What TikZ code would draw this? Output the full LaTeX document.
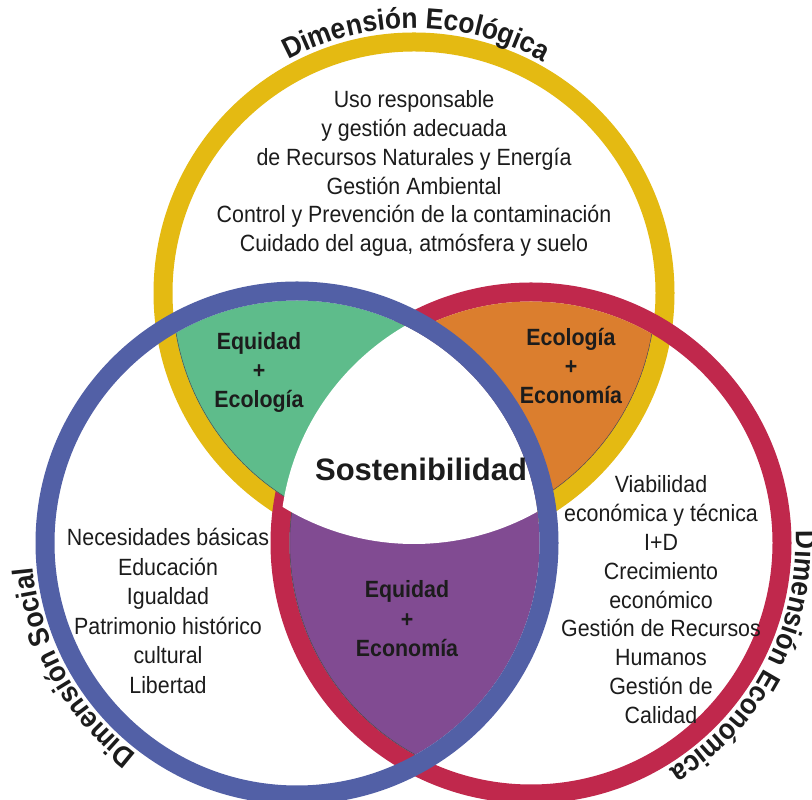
\documentclass[tikz,border=0pt]{standalone}
\usepackage{fontspec}
\setmainfont{Liberation Sans}
\newfontfamily\narrowfont{Liberation Sans}[FakeStretch=0.91]
\usetikzlibrary{decorations.text}
\definecolor{ringY}{RGB}{228,186,18}
\definecolor{ringB}{RGB}{82,96,166}
\definecolor{ringR}{RGB}{192,40,76}
\definecolor{fillG}{RGB}{94,188,139}
\definecolor{fillO}{RGB}{219,126,46}
\definecolor{fillP}{RGB}{129,75,146}
\definecolor{txt}{RGB}{28,28,28}
\begin{document}
\begin{tikzpicture}[x=1pt,y=1pt,
  ring/.style={line width=19pt},
  body/.style={font=\narrowfont\fontsize{23.5}{23.5}\selectfont, text=txt, inner sep=0pt, anchor=base},
  combo/.style={font=\narrowfont\bfseries\fontsize{23.5}{23.5}\selectfont, text=txt, inner sep=0pt, anchor=base},
  rimedge/.style={line width=1pt, draw=black!70},
  dimlabel/.style={decorate, decoration={text along path, text align=center, text color=txt,
     text={|\narrowfont\bfseries\fontsize{29}{29}\selectfont|#1}}}]
\useasboundingbox (0,0) rectangle (812,800);
\fill[white] (0,0) rectangle (812,800);
\coordinate (Y) at (414,507);
\coordinate (B) at (297,257);
\coordinate (R) at (531,257);
% rings below
\draw[ring, ringY] (Y) circle (251);
\draw[ring, ringR] (R) circle (251);
% Equidad + Ecologia
\begin{scope}
  \clip (Y) circle (241.5);
  \clip (B) circle (242.5);
  \fill[fillG] (0,0) rectangle (812,800);
  \draw[rimedge] (Y) circle (241.5);
\end{scope}
% Ecologia + Economia
\begin{scope}
  \clip (Y) circle (241.5);
  \clip (R) circle (241.5);
  \fill[fillO] (0,0) rectangle (812,800);
  \draw[rimedge] (Y) circle (241.5);
\end{scope}
% Equidad + Economia
\begin{scope}
  \clip (B) circle (242.5);
  \clip (R) circle (241.5);
  \fill[fillP] (0,0) rectangle (812,800);
  \draw[rimedge] (R) circle (241.5);
\end{scope}
% Sostenibilidad
\begin{scope}
  \clip (Y) circle (251);
  \clip (B) circle (242.5);
  \clip (R) circle (251);
  \fill[white] (0,0) rectangle (812,800);
\end{scope}
% blue ring on top
\draw[ring, ringB] (B) circle (252);

% curved titles
\path[dimlabel={Dimensión Ecológica}] (Y) ++(139.5:265) arc[start angle=139.5, end angle=39.5, radius=265];
\path[dimlabel={Dimensión Social}] (B) ++(259:265) arc[start angle=259, end angle=159, radius=265];
\path[dimlabel={Dimensión Económica}] (R) ++(22:265) arc[start angle=22, end angle=-78, radius=265];

% texts
\foreach \t [count=\i] in {Uso responsable, y gestión adecuada, de Recursos Naturales y Energía, Gestión Ambiental, Control y Prevención de la contaminación, {Cuidado del agua, atmósfera y suelo}}
  \node[body] (eco\i) at (414, {692-28.7*(\i-1)}) {\t};
\foreach \t [count=\i] in {Necesidades básicas, Educación, Igualdad, Patrimonio histórico, cultural, Libertad}
  \node[body] (soc\i) at (168, {254.5-29.6*(\i-1)}) {\t};
\foreach \t [count=\i] in {Viabilidad, económica y técnica, I+D, Crecimiento, económico, Gestión de Recursos, Humanos, Gestión de, Calidad}
  \node[body] (ecn\i) at (661, {307.5-28.9*(\i-1)}) {\t};

\node[combo] (g1) at (259,450) {Equidad};
\node[combo] (g2) at (259,421) {+};
\node[combo] (g3) at (259,392) {Ecología};
\node[combo] (o1) at (571,454) {Ecología};
\node[combo] (o2) at (571,425) {+};
\node[combo] (o3) at (571,396) {Economía};
\node[combo] (p1) at (407,202) {Equidad};
\node[combo] (p2) at (407,172.5) {+};
\node[combo] (p3) at (407,143) {Economía};
\node[font=\bfseries\fontsize{31}{31}\selectfont, text=txt, inner sep=0pt, anchor=base] (sost) at (421,319) {Sostenibilidad};
\end{tikzpicture}
\end{document}
